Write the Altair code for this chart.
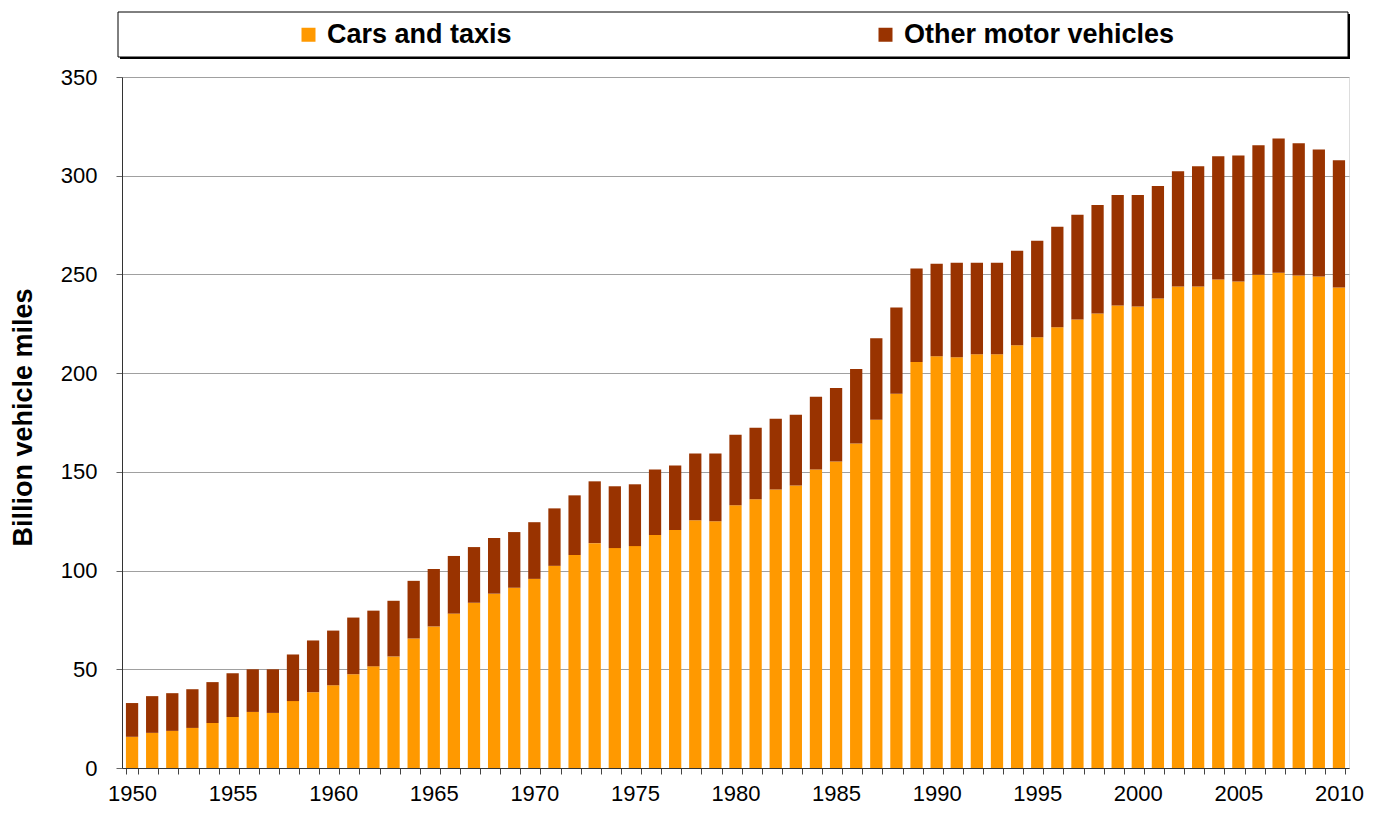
import altair as alt
import pandas as pd

years = list(range(1950, 2011))
cars = [15.8, 17.8, 18.8, 20.3, 22.8, 25.8, 28.4, 27.9, 33.9, 38.4,
        41.9, 47.5, 51.5, 56.5, 65.6, 71.7, 78.2, 83.7, 88.3, 91.3,
        95.8, 102.4, 107.9, 113.9, 111.4, 112.4, 118.0, 120.5, 125.5, 125.0,
        133.1, 136.1, 141.1, 143.1, 151.2, 155.2, 164.3, 176.4, 189.5, 205.6,
        208.6, 208.1, 209.6, 209.6, 214.1, 218.2, 223.2, 227.2, 230.2, 234.2,
        233.7, 237.8, 243.9, 243.9, 247.4, 246.4, 249.9, 250.9, 249.4, 248.9,
        243.4]
other = [17.1, 18.6, 19.1, 19.6, 20.7, 22.2, 21.6, 22.1, 23.6, 26.2,
         27.7, 28.7, 28.2, 28.2, 29.2, 29.1, 29.2, 28.2, 28.2, 28.2,
         28.7, 29.1, 30.2, 31.3, 31.3, 31.3, 33.2, 32.7, 33.8, 34.3,
         35.7, 36.2, 35.8, 35.8, 36.8, 37.3, 37.8, 41.3, 43.8, 47.4,
         46.8, 47.8, 46.3, 46.3, 47.9, 48.8, 50.9, 53.0, 55.0, 56.0,
         56.5, 57.0, 58.4, 60.9, 62.4, 63.9, 65.5, 68.0, 67.0, 64.4,
         64.4]
series_names = ["Cars and taxis", "Other motor vehicles"]
series_colors = ["#FF9900", "#993300"]
y_ticks = [0, 50, 100, 150, 200, 250, 300, 350]

rows = []
for yr, c, o in zip(years, cars, other):
    rows.append({"year": yr, "series": series_names[0], "value": c, "ord": 0})
    rows.append({"year": yr, "series": series_names[1], "value": o, "ord": 1})
df = pd.DataFrame(rows)

W, H = 1227, 691
FONT = "Liberation Sans"

bars = alt.Chart(df).mark_bar().encode(
    x=alt.X(
        "year:O",
        scale=alt.Scale(paddingInner=0.39, paddingOuter=0.195),
        axis=alt.Axis(
            title=None,
            labelAngle=0,
            labelExpr="datum.value % 5 == 0 ? datum.label : ''",
            tickBand="extent",
            tickSize=6,
            labelPadding=9,
            labelFontSize=22,
            labelFont=FONT,
            labelColor="#000000",
            domainColor="#333333",
            tickColor="#444444",
            grid=False,
        ),
    ),
    y=alt.Y(
        "value:Q",
        stack="zero",
        scale=alt.Scale(domain=[0, 350], nice=False),
        axis=alt.Axis(
            title="Billion vehicle miles",
            values=y_ticks,
            tickSize=6,
            labelPadding=19,
            labelFontSize=22,
            labelFont=FONT,
            labelColor="#000000",
            titleFont=FONT,
            titleFontSize=27,
            titleFontWeight="bold",
            titleColor="#000000",
            titlePadding=23,
            titleY=340,
            domainColor="#333333",
            tickColor="#666666",
            grid=True,
            gridColor="#a0a0a0",
            gridWidth=1,
        ),
    ),
    color=alt.Color(
        "series:N",
        scale=alt.Scale(domain=series_names, range=series_colors),
        legend=alt.Legend(
            title=None,
            orient="none",
            legendX=173,
            legendY=-56,
            direction="horizontal",
            symbolType="square",
            symbolSize=196,
            symbolStrokeWidth=0,
            symbolOpacity=1,
            labelFont=FONT,
            labelFontSize=27,
            labelFontWeight="bold",
            labelColor="#000000",
            labelOffset=5,
            labelLimit=500,
            columnPadding=360,
            padding=0,
        ),
    ),
    order=alt.Order("ord:Q"),
)

box_df = pd.DataFrame({"k": [0]})
shadow = alt.Chart(box_df).mark_rect(color="#000000").encode(
    x=alt.value(-2), x2=alt.value(1228), y=alt.value(-63), y2=alt.value(-18)
)
box = alt.Chart(box_df).mark_rect(fill="#ffffff", stroke="#000000", strokeWidth=1).encode(
    x=alt.value(-4), x2=alt.value(1226), y=alt.value(-65), y2=alt.value(-20)
)

chart = alt.layer(shadow, box, bars).properties(
    width=W,
    height=H,
    autosize=alt.AutoSizeParams(type="none"),
    padding={"left": 114, "top": 69, "right": 16, "bottom": 38},
).configure_view(stroke=None).configure(background="#ffffff")

chart.save("out.html", embed_options={"renderer": "svg", "actions": False})
